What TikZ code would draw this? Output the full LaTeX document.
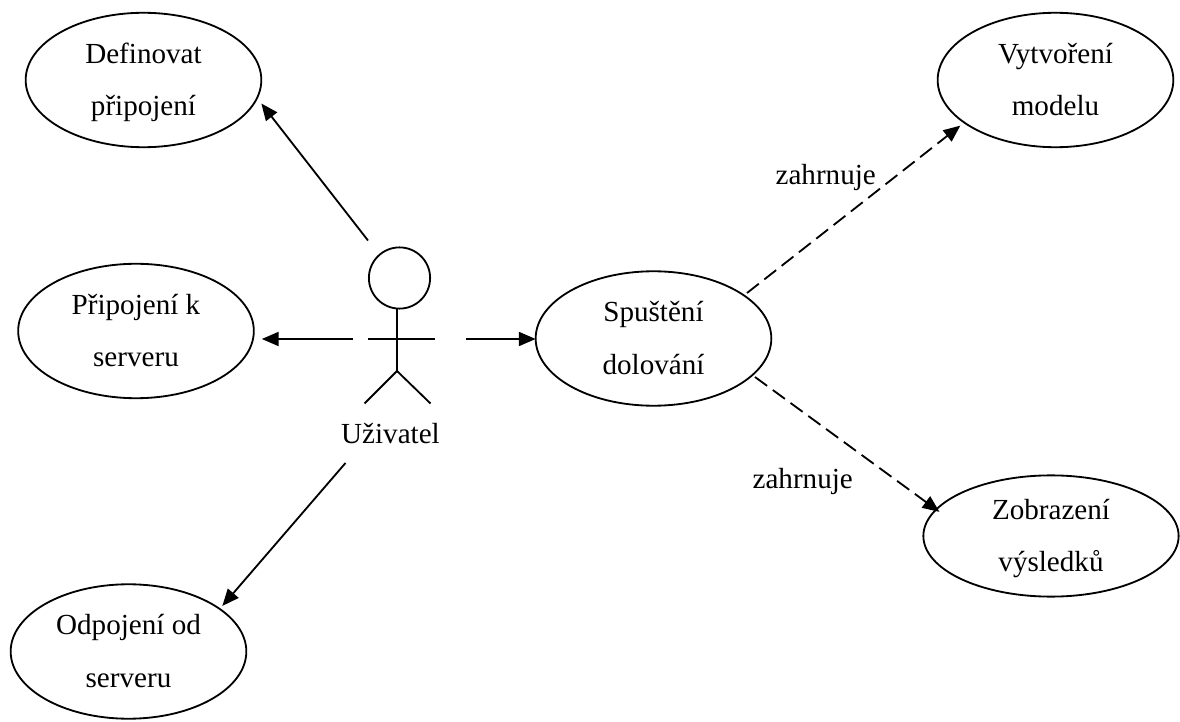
\documentclass[tikz,border=0pt]{standalone}
\usepackage{fontspec}
\setmainfont{Liberation Serif}
\usetikzlibrary{arrows.meta, shapes.geometric}
\newcommand{\twolines}[2]{\rule{0pt}{18.5pt}#1\\#2\rule[-5pt]{0pt}{5pt}}
\tikzset{
	usecase/.style = {ellipse, draw, line width = 1.3pt, outer sep = 0pt, minimum width = 5.89cm, minimum height = 3.36cm, inner sep = 0pt, align = center, font = \fontsize{20.7}{37}\selectfont},
	limb/.style = {line width = 1.3pt},
	assoc/.style = {line width = 1.3pt, -{Triangle[length = 0.42cm, width = 0.35cm]}},
	incl/.style = {assoc, dash pattern = on 0.375cm off 0.175cm},
	lbl/.style = {anchor = base, font = \fontsize{20.7}{25}\selectfont}
}
\begin{document}
\begin{tikzpicture}[x = 0.025cm, y = -0.025cm]
	\useasboundingbox (0, 0) rectangle (1180, 722);
	\node[usecase] (definovat) at (143.5, 80) {\twolines{Definovat}{připojení}};
	\node[usecase] (pripojeni) at (136, 331) {\twolines{Připojení k}{serveru}};
	\node[usecase] (odpojeni) at (128.5, 651.5) {\twolines{Odpojení od}{serveru}};
	\node[usecase] (spusteni) at (653.5, 338.5) {\twolines{Spuštění}{dolování}};
	\node[usecase] (vytvoreni) at (1055.5, 80) {\twolines{Vytvoření}{modelu}};
	\node[usecase, minimum width = 6.38cm, minimum height = 3.03cm] (zobrazeni) at (1051, 536) {\twolines{Zobrazení}{výsledků}};
	% actor
	\node[circle, draw, line width = 1.3pt, outer sep = 0pt, minimum size = 1.53cm] (head) at (399.5, 278) {};
	\coordinate (neck) at (397, 309);
	\coordinate (hip) at (397, 371);
	\coordinate (armL) at (368, 339);
	\coordinate (armR) at (435, 339);
	\coordinate (footL) at (364.5, 403.5);
	\coordinate (footR) at (430.5, 403.5);
	\draw[limb] (neck) -- (hip);
	\draw[limb] (armL) -- (armR);
	\draw[limb] (footL) -- (hip) -- (footR);
	\node[lbl] (uzivatel) at (390.5, 443) {Uživatel};
	% connector ends near the actor
	\coordinate (a1) at (368, 240.5);
	\coordinate (a2) at (353, 339);
	\coordinate (a3) at (466, 339);
	\coordinate (a4) at (345.5, 463);
	\coordinate (s1) at (747, 293);
	\coordinate (s2) at (755, 377);
	\draw[assoc, shorten >= 0.175cm] (a1) to (definovat.-9.2);
	\draw[assoc, shorten >= 0.2cm] (a2) to (a2 -| pripojeni.east);
	\draw[assoc] (a3) to (a3 -| spusteni.west);
	\draw[assoc, shorten >= 0.1cm] (a4) to (odpojeni.25.3);
	\draw[incl, shorten >= 0.125cm] (s1) to (vytvoreni.205.6);
	\draw[incl, shorten >= -0.1cm] (s2) to (zobrazeni.167.7);
	\node[lbl] (inc1) at (825.7, 185) {zahrnuje};
	\node[lbl] (inc2) at (802.7, 488) {zahrnuje};
\end{tikzpicture}
\end{document}
